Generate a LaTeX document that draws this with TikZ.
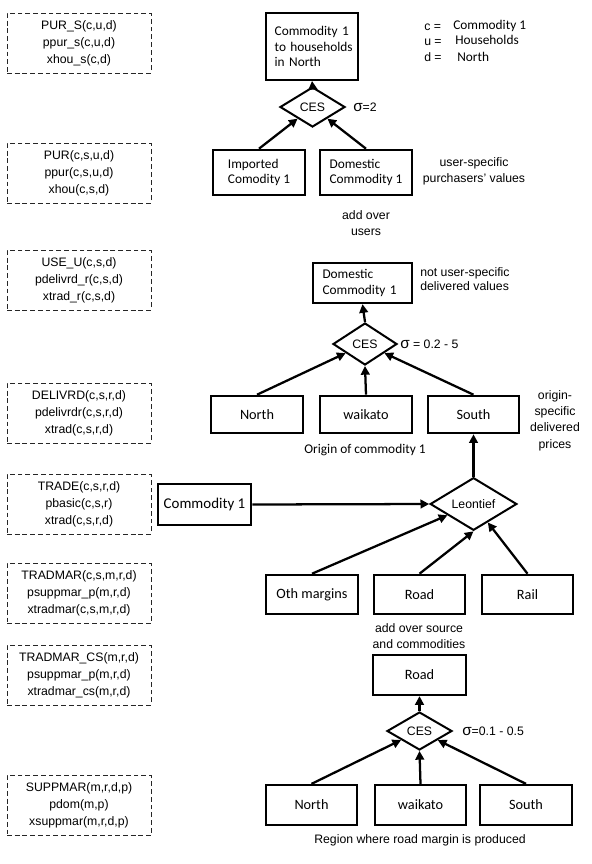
\documentclass[tikz,border=0pt]{standalone}
\usepackage{fontspec}
\setmainfont{Liberation Sans}
\newfontfamily\calfont{Carlito}
\usetikzlibrary{arrows.meta,shapes.geometric}
\newcommand{\sigm}{{\fontsize{11.5}{12}\selectfont σ}}
\tikzset{
  varbox/.style={draw=black!85, line width=0.6pt, dash pattern=on 3.6pt off 2.2pt,
    minimum width=108pt, minimum height=45pt, align=center, inner sep=0pt,
    font=\fontsize{9.2}{12.8}\selectfont},
  tbox/.style={draw, line width=1.7pt, align=left, inner sep=0pt,
    font=\calfont\fontsize{10}{11.5}\selectfont},
  rbox/.style={draw, line width=1.7pt, inner sep=0pt,
    minimum width=68.5pt, minimum height=28pt,
    font=\calfont\fontsize{10.7}{12}\selectfont},
  dia/.style={draw, diamond, line width=1.5pt, inner sep=0pt,
    font=\fontsize{9.2}{11}\selectfont},
  arr/.style={line width=1.7pt, -{Triangle[length=6.5pt,width=6.5pt]}},
  lab/.style={inner sep=0pt, font=\fontsize{9.2}{12}\selectfont},
  clab/.style={inner sep=0pt, font=\calfont\fontsize{10}{12}\selectfont},
}
\begin{document}
\begin{tikzpicture}[x=0.75pt,y=-0.75pt]
\useasboundingbox (0,0) rectangle (592,864);
% left variable boxes
\node[varbox] (v1) at (79,43) {PUR\_S(c,u,d)\\ppur\_s(c,u,d)\\xhou\_s(c,d)};
\node[varbox] (v2) at (79,173) {PUR(c,s,u,d)\\ppur(c,s,u,d)\\xhou(c,s,d)};
\node[varbox] (v3) at (79,280) {USE\_U(c,s,d)\\pdelivrd\_r(c,s,d)\\xtrad\_r(c,s,d)};
\node[varbox] (v4) at (79,413) {DELIVRD(c,s,r,d)\\pdelivrdr(c,s,r,d)\\xtrad(c,s,r,d)};
\node[varbox] (v5) at (79,504) {TRADE(c,s,r,d)\\pbasic(c,s,r)\\xtrad(c,s,r,d)};
\node[varbox] (v6) at (79,593.5) {TRADMAR(c,s,m,r,d)\\psuppmar\_p(m,r,d)\\xtradmar(c,s,m,r,d)};
\node[varbox] (v7) at (79,675) {TRADMAR\_CS(m,r,d)\\psuppmar\_p(m,r,d)\\xtradmar\_cs(m,r,d)};
\node[varbox] (v8) at (79,805.5) {SUPPMAR(m,r,d,p)\\pdom(m,p)\\xsuppmar(m,r,d,p)};

% legend
\node[lab, anchor=west] (lc) at (424,27) {c =};
\node[lab, anchor=west] (lu) at (424,42) {u =};
\node[lab, anchor=west] (ld) at (424,57) {d =};
\node[clab, anchor=west] (lc2) at (453,26) {Commodity 1};
\node[clab, anchor=west] (lu2) at (455,40) {Households};
\node[clab, anchor=west] (ld2) at (457,57) {North};

% top nest
\node[tbox, minimum width=69pt, minimum height=50pt, text width=56pt, inner xsep=6.5pt] (hh) at (312,46.5) {\mbox{Commodity 1}\\\mbox{to households}\\\mbox{in North}};
\node[dia, minimum width=48.75pt, minimum height=30pt] (ces1) at (312.5,107) {CES};
\node[lab, anchor=west] (s1) at (353,107) {\sigm=2};
\node[tbox, minimum width=69pt, minimum height=34pt] (imp) at (259,172.5) {Imported\\Comodity 1};
\node[tbox, minimum width=69pt, minimum height=34pt] (dom) at (366,172.5) {Domestic\\Commodity 1};
\node[lab, align=center] (us) at (474,171.5) {user-specific\\purchasers' values};
\node[lab, align=center] (au) at (366,223.5) {add over\\users};
\draw[arr] (ces1.north) -- (hh.south);
\draw[arr] (imp.north) -- (ces1);
\draw[arr] (dom.north) -- (ces1);

% middle nest
\node[tbox, minimum width=74pt, minimum height=30pt, text width=60pt, inner xsep=7pt] (dom2) at (362.5,283) {\mbox{Domestic}\\\mbox{Commodity 1}};
\node[lab, align=left, anchor=west, font=\fontsize{9.2}{10.5}\selectfont] (nu) at (420,279) {not user-specific\\delivered values};
\node[dia, minimum width=48pt, minimum height=31.5pt] (ces2) at (365,344) {CES};
\node[lab, anchor=west] (s2) at (400,344) {\sigm{} = 0.2 - 5};
\node[rbox] (n1) at (257,414.5) {North};
\node[rbox] (w1) at (366,414.5) {waikato};
\node[rbox] (so1) at (473.5,414.5) {South};
\node[lab, align=center, font=\fontsize{9.2}{12.3}\selectfont] (os) at (555,420.5) {origin-\\specific\\delivered\\prices};
\node[clab] (oc) at (365,450) {Origin of commodity 1};
\draw[arr] (ces2.north) -- (dom2.south);
\draw[arr] (n1.north) -- (ces2);
\draw[arr] (w1.north) -- (ces2.south);
\draw[arr] (so1.north) -- (ces2);

% trade
\node[rbox, font=\calfont\fontsize{11.2}{12}\selectfont, minimum width=70pt, minimum height=30.5pt] (c1) at (204.5,504.5) {Commodity 1};
\node[dia, minimum width=65pt, minimum height=28.5pt] (leo) at (473.5,504) {Leontief};
\node[rbox, minimum height=29.5pt] (oth) at (312,594.5) {Oth margins};
\node[rbox, minimum height=29.5pt] (road1) at (419.5,594.5) {Road};
\node[rbox, minimum height=29.5pt] (rail) at (527.5,594.5) {Rail};
\node[lab, align=center] (ao) at (419,636.5) {add over source\\and commodities};
\draw[arr] (leo.north) -- (so1.south);
\draw[arr] (c1.east) -- (leo.west);
\draw[arr] (oth.north) -- (leo);
\draw[arr] (road1.north) -- (leo.south);
\draw[arr] (rail.north) -- (leo);

% road margin nest
\node[rbox, minimum width=70pt, minimum height=30pt] (road2) at (419.5,675) {Road};
\node[dia, minimum width=48.75pt, minimum height=28.5pt] (ces3) at (419.5,731) {CES};
\node[lab, anchor=west] (s3) at (462,731) {\sigm=0.1 - 0.5};
\node[rbox, minimum height=30pt] (n2) at (311.5,805) {North};
\node[rbox, minimum height=30pt] (w2) at (420.5,805) {waikato};
\node[rbox, minimum height=30pt] (so2) at (526,805) {South};
\node[lab] (rw) at (420,840) {Region where road margin is produced};
\draw[arr] (ces3.north) -- (road2.south);
\draw[arr] (n2.north) -- (ces3);
\draw[arr] (w2.north) -- (ces3.south);
\draw[arr] (so2.north) -- (ces3);
\end{tikzpicture}
\end{document}
